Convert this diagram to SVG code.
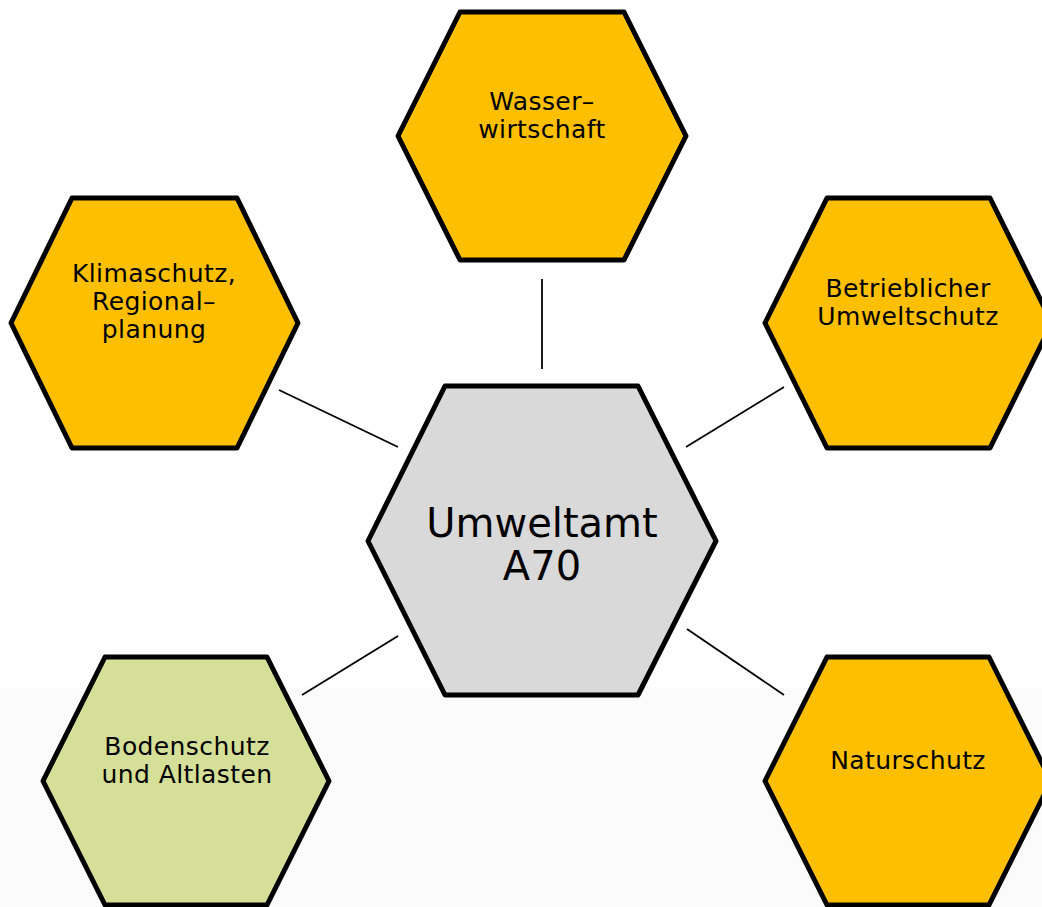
<svg xmlns="http://www.w3.org/2000/svg" width="1042" height="907" viewBox="0 0 1042 907">
<style>
.hex{stroke:#000;stroke-width:5;stroke-linejoin:round}
.org{fill:#fdbf00}
.conn line{stroke:#000;stroke-width:1.8}
text{font-family:"DejaVu Sans","Liberation Sans",sans-serif;fill:#000;text-anchor:middle}
.s{font-size:25px;letter-spacing:0.4px}
.b{font-size:40px}
</style>
<rect x="0" y="0" width="1042" height="907" fill="#ffffff"/>
<rect x="0" y="687" width="1042" height="220" fill="#fbfbfb"/>
<g id="connectors" class="conn">
<line x1="542" y1="279" x2="542" y2="369"/>
<line x1="279" y1="390" x2="398" y2="447"/>
<line x1="784" y1="387" x2="686" y2="447"/>
<line x1="302" y1="695" x2="398" y2="636"/>
<line x1="687" y1="629" x2="784" y2="695"/>
</g>
<g id="center">
<polygon class="hex" fill="#d9d9d9" points="445,386 638,386 716,541 638,695 445,695 368,541"/>
<text class="b" x="542" y="537">Umweltamt</text>
<text class="b" x="542" y="580">A70</text>
</g>
<g id="wasser">
<polygon class="hex org" points="460,12 624,12 686,136 624,260 460,260 398,136"/>
<text class="s" x="542" y="110">Wasser–</text>
<text class="s" x="542" y="138">wirtschaft</text>
</g>
<g id="klima">
<polygon class="hex org" points="72,198 237,198 298,323 237,448 72,448 11,323"/>
<text class="s" x="154" y="282">Klimaschutz,</text>
<text class="s" x="154" y="310">Regional–</text>
<text class="s" x="154" y="338">planung</text>
</g>
<g id="betrieb">
<polygon class="hex org" points="827,198 990,198 1052,323 990,448 827,448 765,323"/>
<text class="s" x="908" y="297">Betrieblicher</text>
<text class="s" x="908" y="325">Umweltschutz</text>
</g>
<g id="boden">
<polygon class="hex" fill="#d6df98" points="105,657 267,657 329,781 267,905 105,905 43,781"/>
<text class="s" x="187" y="755">Bodenschutz</text>
<text class="s" x="187" y="783">und Altlasten</text>
</g>
<g id="natur">
<polygon class="hex org" points="827,657 989,657 1051,781 989,905 827,905 765,781"/>
<text class="s" x="908" y="769">Naturschutz</text>
</g>
</svg>
